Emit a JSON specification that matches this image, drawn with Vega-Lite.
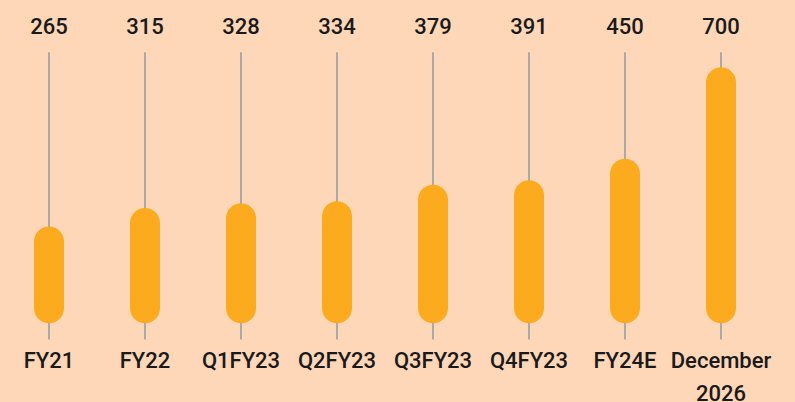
{
  "$schema": "https://vega.github.io/schema/vega-lite/v6.json",
  "width": 795,
  "height": 402,
  "autosize": "none",
  "padding": 0,
  "background": "#FED6B8",
  "config": {"view": {"stroke": null}},
  "data": {
    "values": [
      {"period": "FY21", "value": 265},
      {"period": "FY22", "value": 315},
      {"period": "Q1FY23", "value": 328},
      {"period": "Q2FY23", "value": 334},
      {"period": "Q3FY23", "value": 379},
      {"period": "Q4FY23", "value": 391},
      {"period": "FY24E", "value": 450},
      {"period": "December 2026", "value": 700}
    ]
  },
  "encoding": {
    "x": {
      "field": "period",
      "type": "nominal",
      "sort": null,
      "axis": null,
      "scale": {"type": "point", "range": [49, 721], "padding": 0}
    }
  },
  "layer": [
    {
      "mark": {"type": "rule", "color": "#A9A9A9", "strokeWidth": 2},
      "encoding": {
        "y": {"datum": 741, "type": "quantitative", "scale": {"domain": [0, 700], "range": [323.3, 67.3], "nice": false, "zero": false}, "axis": null},
        "y2": {"datum": -44}
      }
    },
    {
      "mark": {"type": "bar", "color": "#FCAA1E", "width": 30, "cornerRadius": 15},
      "encoding": {
        "y": {"field": "value", "type": "quantitative"},
        "y2": {"datum": 0}
      }
    },
    {
      "mark": {"type": "text", "font": "Roboto", "fontSize": 22, "fontWeight": 500, "color": "#1A1A1A", "baseline": "middle", "align": "center"},
      "encoding": {
        "y": {"datum": 810},
        "text": {"field": "value", "type": "quantitative"}
      }
    },
    {
      "mark": {"type": "text", "font": "Roboto", "fontSize": 22, "fontWeight": 500, "color": "#1A1A1A", "baseline": "top", "align": "center", "lineBreak": " ", "lineHeight": 33.5},
      "encoding": {
        "y": {"datum": -75},
        "text": {"field": "period", "type": "nominal"}
      }
    }
  ]
}
